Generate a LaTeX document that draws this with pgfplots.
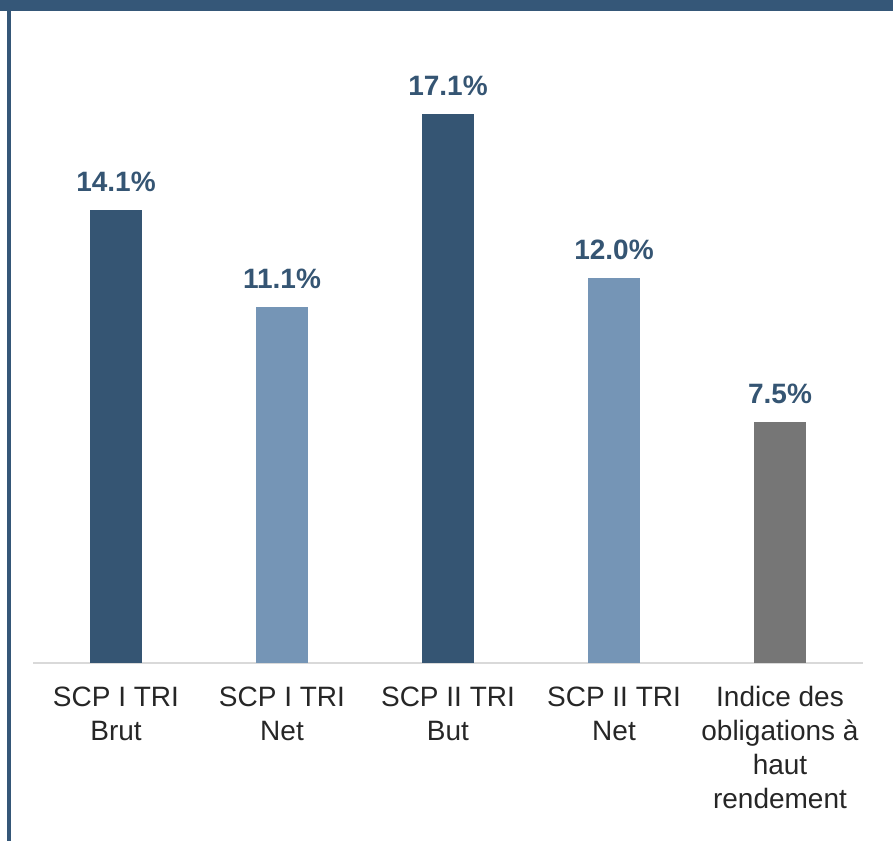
\documentclass[border=0pt]{standalone}
\usepackage{pgfplots}
\pgfplotsset{compat=1.18}
\usepackage{fontspec}
\setmainfont{Liberation Sans}
\definecolor{dkblue}{RGB}{53,85,115}
\definecolor{ltblue}{RGB}{117,149,182}
\definecolor{bargray}{RGB}{118,118,118}
\definecolor{txtgray}{RGB}{38,38,38}
\definecolor{framecol}{RGB}{53,87,120}
\definecolor{axgray}{RGB}{217,217,217}
\begin{document}
\begin{tikzpicture}[x=1pt,y=1pt]
\path[use as bounding box] (0,0) rectangle (893,841);
\fill[framecol] (0,830) rectangle (893,841);
\fill[framecol] (7,0) rectangle (11,841);
\begin{axis}[
  at={(33pt,178pt)}, anchor=south west,
  scale only axis, width=830pt, height=642pt,
  xmin=-0.5, xmax=4.5, ymin=0, ymax=20,
  ybar, bar width=52pt, bar shift=0pt,
  axis y line=none,
  axis x line*=bottom,
  x axis line style={axgray, line width=1.5pt},
  major tick length=0pt,
  xtick={0,1,2,3,4},
  xticklabels={{SCP I TRI\\Brut},{SCP I TRI\\Net},{SCP II TRI\\But},{SCP II TRI\\Net},{Indice des\\obligations à\\haut\\rendement}},
  xticklabel style={align=center, font=\fontsize{28}{34}\selectfont, text=txtgray, anchor=north, yshift=-20pt},
  /pgf/number format/assume math mode=true,
  nodes near coords={\pgfmathprintnumber[fixed,fixed zerofill,precision=1]{\pgfplotspointmeta}\%},
  nodes near coords style={font=\fontsize{28}{33}\selectfont\bfseries, text=dkblue, anchor=south, inner sep=0pt, yshift=18pt},
  clip=false,
]
\addplot[fill=dkblue, draw=none] coordinates {(0,14.1)};
\addplot[fill=ltblue, draw=none] coordinates {(1,11.1)};
\addplot[fill=dkblue, draw=none] coordinates {(2,17.1)};
\addplot[fill=ltblue, draw=none] coordinates {(3,12.0)};
\addplot[fill=bargray, draw=none] coordinates {(4,7.5)};
\end{axis}
\end{tikzpicture}
\end{document}
